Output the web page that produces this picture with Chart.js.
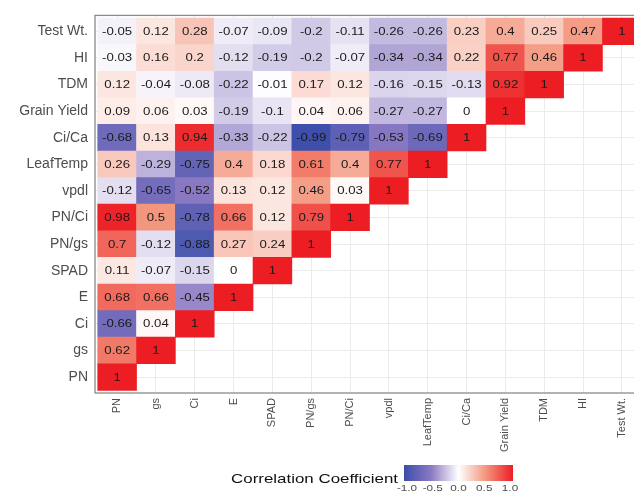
<!DOCTYPE html>
<html>
<head>
<meta charset="utf-8">
<script src="https://cdn.jsdelivr.net/npm/chart.js@4.4.1/dist/chart.umd.min.js"></script>
<style>
    html, body { margin: 0; padding: 0; background: #fff; overflow: hidden; width: 634px; height: 491px; }
    #wrap { position: relative; width: 660px; height: 491px; }
</style>
</head>
<body>
<div id="wrap"><canvas id="corrChart"></canvas></div>
<script>
// variables, same order on both axes (bottom -> top, left -> right)
const varNames = ['PN', 'gs', 'Ci', 'E', 'SPAD', 'PN/gs', 'PN/Ci', 'vpdl', 'LeafTemp', 'Ci/Ca', 'Grain Yield', 'TDM', 'HI', 'Test Wt.'];

// one array per row, values from the PN column to the diagonal
const rowPN = [1];
const rowGs = [0.62, 1];
const rowCi = [-0.66, 0.04, 1];
const rowE = [0.68, 0.66, -0.45, 1];
const rowSPAD = [0.11, -0.07, -0.15, 0, 1];
const rowPNgs = [0.7, -0.12, -0.88, 0.27, 0.24, 1];
const rowPNCi = [0.98, 0.5, -0.78, 0.66, 0.12, 0.79, 1];
const rowVpdl = [-0.12, -0.65, -0.52, 0.13, 0.12, 0.46, 0.03, 1];
const rowLeafTemp = [0.26, -0.29, -0.75, 0.4, 0.18, 0.61, 0.4, 0.77, 1];
const rowCiCa = [-0.68, 0.13, 0.94, -0.33, -0.22, -0.99, -0.79, -0.53, -0.69, 1];
const rowGrainYield = [0.09, 0.06, 0.03, -0.19, -0.1, 0.04, 0.06, -0.27, -0.27, 0, 1];
const rowTDM = [0.12, -0.04, -0.08, -0.22, -0.01, 0.17, 0.12, -0.16, -0.15, -0.13, 0.92, 1];
const rowHI = [-0.03, 0.16, 0.2, -0.12, -0.19, -0.2, -0.07, -0.34, -0.34, 0.22, 0.77, 0.46, 1];
const rowTestWt = [-0.05, 0.12, 0.28, -0.07, -0.09, -0.2, -0.11, -0.26, -0.26, 0.23, 0.4, 0.25, 0.47, 1];

const rows = [rowPN, rowGs, rowCi, rowE, rowSPAD, rowPNgs, rowPNCi, rowVpdl, rowLeafTemp, rowCiCa, rowGrainYield, rowTDM, rowHI, rowTestWt];

const legendTicks = [-1.0, -0.5, 0.0, 0.5, 1.0];

// colour scale blue - white - red
const colorStops = [
    [-1, [59, 78, 170]],
    [-0.5, [140, 122, 195]],
    [0, [255, 255, 255]],
    [0.5, [243, 150, 126]],
    [1, [236, 30, 36]]
];

function corrColor(v) {
    for (let k = 1; k < colorStops.length; k++) {
        const a = colorStops[k - 1], b = colorStops[k];
        if (v <= b[0]) {
            const t = (v - a[0]) / (b[0] - a[0]);
            const c = a[1].map((x, n) => Math.round(x + (b[1][n] - x) * t));
            return 'rgb(' + c.join(',') + ')';
        }
    }
    return 'rgb(' + colorStops[colorStops.length - 1][1].join(',') + ')';
}

const datasets = rows.map(function(vals, i) {
    return {
        label: varNames[i],
        data: vals.map((v, j) => ({ x: j, y: [i - 0.5, i + 0.5], v: v })),
        backgroundColor: ctx => corrColor(ctx.raw.v),
        borderWidth: 0,
        barPercentage: 1,
        categoryPercentage: 1,
        grouped: false
    };
});

// numbers inside the cells
const cellText = {
    id: 'cellText',
    afterDatasetsDraw(chart) {
        const ctx = chart.ctx;
        ctx.save();
        ctx.fillStyle = '#1a1a1a';
        ctx.font = '11px "Liberation Sans", Arial, sans-serif';
        ctx.textAlign = 'center';
        ctx.textBaseline = 'middle';
        chart.data.datasets.forEach(function(ds, i) {
            chart.getDatasetMeta(i).data.forEach(function(el, j) {
                const p = el.getCenterPoint();
                ctx.save();
                ctx.translate(p.x, p.y + 0.5);
                ctx.scale(1.2, 1);
                ctx.fillText(String(ds.data[j].v), 0, 0);
                ctx.restore();
            });
        });
        ctx.restore();
    }
};

// panel border and colour bar legend
const panelAndLegend = {
    id: 'panelAndLegend',
    afterDraw(chart) {
        const ctx = chart.ctx;
        const a = chart.chartArea;
        ctx.save();
        ctx.strokeStyle = '#8a8a8a';
        ctx.lineWidth = 1.3;
        ctx.strokeRect(a.left, a.top, a.right - a.left, a.bottom - a.top);

        const bx = 404, by = 465, bw = 109, bh = 16;
        const grad = ctx.createLinearGradient(bx, 0, bx + bw, 0);
        colorStops.forEach(s => grad.addColorStop((s[0] + 1) / 2, corrColor(s[0])));
        ctx.fillStyle = grad;
        ctx.fillRect(bx, by, bw, bh);

        ctx.fillStyle = '#111';
        ctx.font = '13px "Liberation Sans", Arial, sans-serif';
        ctx.textAlign = 'right';
        ctx.textBaseline = 'middle';
        ctx.save();
        ctx.translate(398, 479);
        ctx.scale(1.3, 1);
        ctx.fillText('Correlation Coefficient', 0, 0);
        ctx.restore();

        ctx.fillStyle = '#4d4d4d';
        ctx.font = '9px "Liberation Sans", Arial, sans-serif';
        ctx.textAlign = 'center';
        legendTicks.forEach(function(t) {
            const x = bx + 3 + (t + 1) / 2 * (bw - 6);
            ctx.save();
            ctx.translate(x, 489);
            ctx.scale(1.3, 1);
            ctx.fillText(t.toFixed(1), 0, 0);
            ctx.restore();
        });
        ctx.restore();
    }
};

new Chart(document.getElementById('corrChart'), {
    type: 'bar',
    data: { datasets: datasets },
    options: {
        responsive: true,
        maintainAspectRatio: false,
        animation: false,
        layout: { padding: { top: 13, right: 16, left: 0, bottom: 0 } },
        plugins: {
            legend: { display: false },
            tooltip: { enabled: false }
        },
        scales: {
            x: {
                type: 'linear',
                min: -0.57,
                max: 13.57,
                offset: false,
                grid: { color: '#ebebeb', offset: false, drawTicks: false },
                border: { display: false },
                afterFit: s => { s.height = 98; },
                ticks: {
                    stepSize: 1,
                    includeBounds: false,
                    autoSkip: false,
                    minRotation: 90,
                    maxRotation: 90,
                    padding: 5,
                    color: '#4d4d4d',
                    font: { family: '"Liberation Sans", Arial, sans-serif', size: 11 },
                    callback: v => varNames[v]
                }
            },
            y: {
                type: 'linear',
                min: -0.6,
                max: 13.6,
                beginAtZero: false,
                grid: { color: '#ebebeb', drawTicks: false },
                border: { display: false },
                afterFit: s => { s.width = 95; },
                ticks: {
                    stepSize: 1,
                    includeBounds: false,
                    autoSkip: false,
                    padding: 7,
                    color: '#4d4d4d',
                    font: { family: '"Liberation Sans", Arial, sans-serif', size: 14 },
                    callback: v => varNames[v]
                }
            }
        }
    },
    plugins: [cellText, panelAndLegend]
});
</script>
</body>
</html>
